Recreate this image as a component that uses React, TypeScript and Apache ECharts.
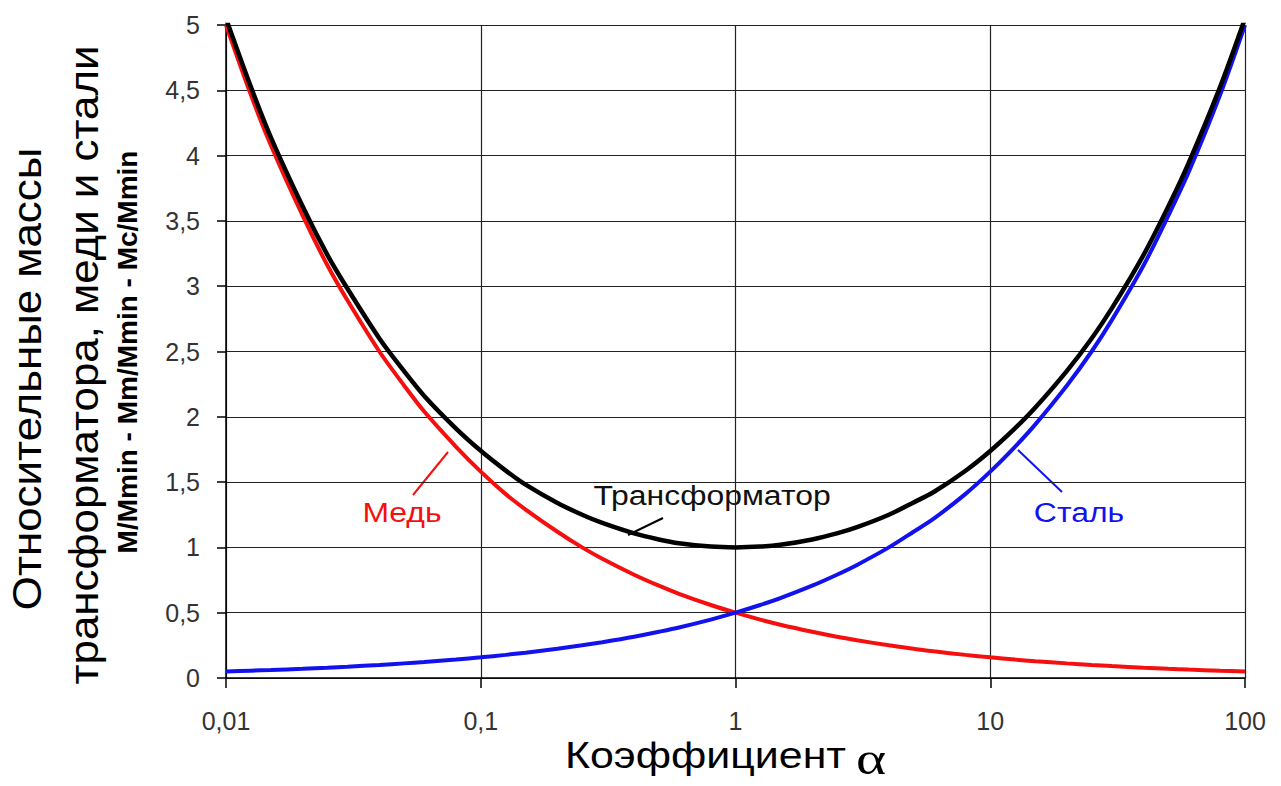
import React, { useEffect, useRef } from "react";
import * as echarts from "echarts";

const alpha = [0.01, 0.0125, 0.015, 0.02, 0.025, 0.03, 0.04, 0.05, 0.06, 0.08, 0.1, 0.125, 0.15, 0.2, 0.25, 0.3, 0.4, 0.5, 0.6, 0.8, 1, 1.25, 1.5, 2, 2.5, 3, 4, 5, 6, 8, 10, 12.5, 15, 20, 25, 30, 40, 50, 60, 80, 100];
const copper = [5.0, 4.47, 4.08, 3.54, 3.16, 2.89, 2.5, 2.24, 2.04, 1.77, 1.58, 1.41, 1.29, 1.12, 1.0, 0.913, 0.791, 0.707, 0.645, 0.559, 0.5, 0.447, 0.408, 0.354, 0.316, 0.289, 0.25, 0.224, 0.204, 0.177, 0.158, 0.141, 0.129, 0.112, 0.1, 0.0913, 0.0791, 0.0707, 0.0645, 0.0559, 0.05];
const steel = [0.05, 0.0559, 0.0612, 0.0707, 0.0791, 0.0866, 0.1, 0.112, 0.122, 0.141, 0.158, 0.177, 0.194, 0.224, 0.25, 0.274, 0.316, 0.354, 0.387, 0.447, 0.5, 0.559, 0.612, 0.707, 0.791, 0.866, 1.0, 1.12, 1.22, 1.41, 1.58, 1.77, 1.94, 2.24, 2.5, 2.74, 3.16, 3.54, 3.87, 4.47, 5.0];
const transformer = [5.05, 4.53, 4.14, 3.61, 3.24, 2.98, 2.6, 2.35, 2.16, 1.91, 1.74, 1.59, 1.48, 1.34, 1.25, 1.187, 1.107, 1.061, 1.032, 1.006, 1.0, 1.006, 1.02, 1.061, 1.107, 1.155, 1.25, 1.344, 1.424, 1.587, 1.738, 1.911, 2.069, 2.352, 2.6, 2.83, 3.24, 3.61, 3.94, 4.53, 5.05];

const seriesNames = ["Медь", "Сталь", "Трансформатор"];
const xTitle = "Коэффициент";
const xSymbol = "α";
const yTitle1 = "Относительные массы";
const yTitle2 = "трансформатора, меди и стали";
const yTitle3 = "M/Mmin - Mm/Mmin - Mc/Mmin";

const FONT = "Liberation Sans, Arial, sans-serif";
const SERIF = "Liberation Serif, Times New Roman, serif";
const RED = "#f50f0f";
const BLUE = "#1212ee";
const BLACK = "#000000";

function fmt(v: number) {
  const s = Number(Number(v).toPrecision(6)).toString();
  return s.replace(".", ",");
}

export default function App() {
  const ref = useRef<HTMLDivElement>(null);
  useEffect(() => {
    if (!ref.current) return;
    const chart = echarts.init(ref.current, null, { renderer: "svg" });
    const mk = (vals: number[]) => alpha.map((a, i) => [a, vals[i]]);
    const ann = (text: string, x: number, y: number, fill: string) => ({
      type: "text",
      x,
      y,
      scaleX: 1.14,
      style: { text, fill, font: `28px ${FONT}`, align: "center", verticalAlign: "middle" },
    });
    chart.setOption({
      animation: false,
      backgroundColor: "#ffffff",
      grid: { left: 226, right: 36, top: 25, bottom: 108, containLabel: false },
      xAxis: {
        type: "log",
        logBase: 10,
        min: 0.01,
        max: 100,
        axisLine: { show: true, onZero: false, lineStyle: { color: "#000", width: 1.5 } },
        axisTick: { show: true, inside: false, length: 10, lineStyle: { color: "#000", width: 1.5 } },
        minorTick: { show: false },
        splitLine: { show: true, lineStyle: { color: "#222", width: 1.2 } },
        axisLabel: { margin: 30, fontFamily: FONT, fontSize: 25, color: "#333", formatter: (v: number) => fmt(v) },
      },
      yAxis: {
        type: "value",
        min: 0,
        max: 5,
        interval: 0.5,
        axisLine: { show: true, onZero: false, lineStyle: { color: "#000", width: 1.5 } },
        axisTick: { show: true, inside: false, length: 9, lineStyle: { color: "#000", width: 1.5 } },
        splitLine: { show: true, lineStyle: { color: "#222", width: 1.2 } },
        axisLabel: { margin: 26, fontFamily: FONT, fontSize: 25, color: "#333", formatter: (v: number) => fmt(v) },
      },
      series: [
        { name: seriesNames[0], type: "line", data: mk(copper), smooth: 0.3, showSymbol: false, clip: true, lineStyle: { color: RED, width: 4 } },
        { name: seriesNames[1], type: "line", data: mk(steel), smooth: 0.3, showSymbol: false, clip: true, lineStyle: { color: BLUE, width: 4 } },
        { name: seriesNames[2], type: "line", data: mk(transformer), smooth: 0.3, showSymbol: false, clip: true, lineStyle: { color: BLACK, width: 4.5 } },
      ],
      graphic: [
        { type: "line", shape: { x1: 413, y1: 495, x2: 448, y2: 452 }, style: { stroke: RED, lineWidth: 2 } },
        ann(seriesNames[0], 402, 512, RED),
        { type: "line", shape: { x1: 663, y1: 518, x2: 628, y2: 535 }, style: { stroke: BLACK, lineWidth: 2 } },
        ann(seriesNames[2], 712, 495, "#111"),
        { type: "line", shape: { x1: 1062, y1: 492, x2: 1018, y2: 450 }, style: { stroke: BLUE, lineWidth: 2 } },
        ann(seriesNames[1], 1079, 512, BLUE),
        { type: "text", x: 565, y: 755, scaleX: 1.16, style: { text: xTitle, fill: "#000", font: `37px ${FONT}`, align: "left", verticalAlign: "middle" } },
        { type: "text", x: 856, y: 759, scaleX: 1.25, style: { text: xSymbol, fill: "#000", font: `46px ${SERIF}`, align: "left", verticalAlign: "middle" } },
        { type: "text", x: 27, y: 379, rotation: Math.PI / 2, scaleX: 1.07, style: { text: yTitle1, fill: "#000", font: `41px ${FONT}`, align: "center", verticalAlign: "middle" } },
        { type: "text", x: 84, y: 365, rotation: Math.PI / 2, scaleX: 1.07, style: { text: yTitle2, fill: "#000", font: `41px ${FONT}`, align: "center", verticalAlign: "middle" } },
        { type: "text", x: 127, y: 352, rotation: Math.PI / 2, style: { text: yTitle3, fill: "#000", font: `bold 28px ${FONT}`, align: "center", verticalAlign: "middle" } },
      ],
    });
    return () => chart.dispose();
  }, []);
  return <div ref={ref} style={{ position: "fixed", left: 0, top: 0, width: 1281, height: 786 }} />;
}
